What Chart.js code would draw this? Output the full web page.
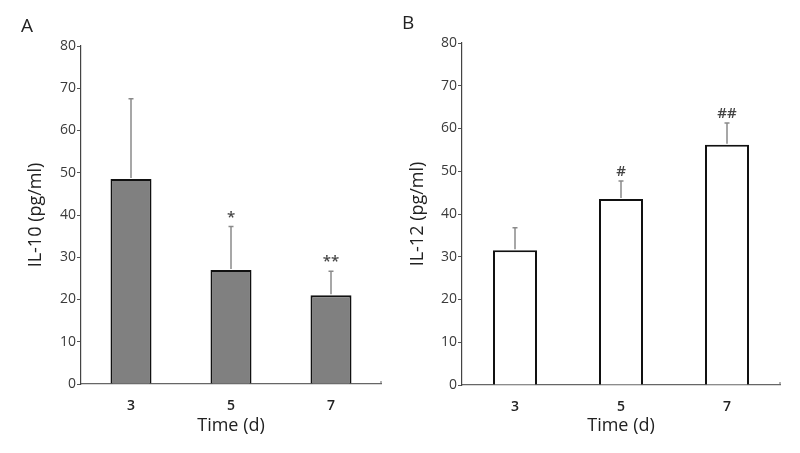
<!DOCTYPE html>
<html>
<head>
<meta charset="utf-8">
<script src="https://cdn.jsdelivr.net/npm/chart.js@4.4.1/dist/chart.umd.min.js"></script>
<style>
  html, body { margin: 0; padding: 0; background: #fff; }
  #wrap { position: relative; width: 800px; height: 453px; }
  .pane { position: absolute; top: 0; width: 400px; height: 453px; }
  .letter { position: absolute; font-family: 'Open Sans', sans-serif; font-size: 19px; color: #222; }
</style>
</head>
<body>
<div id="wrap">
  <div class="pane" style="left:0"><canvas id="chartA" width="400" height="453"></canvas></div>
  <div class="pane" style="left:400px"><canvas id="chartB" width="400" height="453"></canvas></div>
  <div class="letter" style="left:21px;top:12px">A</div>
  <div class="letter" style="left:402px;top:9px">B</div>
</div>
<script>
// data
const days = ['3', '5', '7'];
const il10Mean = [48.5, 27.0, 21.0];
const il10Err = [19.0, 10.3, 5.7];
const il10Marks = ['', '*', '**'];
const il12Mean = [31.5, 43.5, 56.2];
const il12Err = [5.3, 4.2, 5.1];
const il12Marks = ['', '#', '##'];
const yTicks = [0, 10, 20, 30, 40, 50, 60, 70, 80];

const fontFam = "'Open Sans', sans-serif";

// draws the upper error bar and the significance mark over each bar
const errorBarPlugin = {
    id: 'errorBars',
    afterDatasetsDraw(chart, args, opts) {
        const ctx = chart.ctx;
        const meta = chart.getDatasetMeta(0);
        const yScale = chart.scales.y;
        ctx.save();
        meta.data.forEach((bar, i) => {
            const top = yScale.getPixelForValue(opts.mean[i] + opts.err[i]);
            const base = yScale.getPixelForValue(opts.mean[i]);
            ctx.strokeStyle = '#8a8a8a';
            ctx.lineWidth = 1.5;
            ctx.beginPath();
            ctx.moveTo(bar.x, base - 1);
            ctx.lineTo(bar.x, top);
            ctx.moveTo(bar.x - 2.5, top);
            ctx.lineTo(bar.x + 2.5, top);
            ctx.stroke();
            if (opts.marks[i]) {
                ctx.fillStyle = '#444';
                ctx.font = '600 15px ' + fontFam;
                ctx.textAlign = 'center';
                ctx.textBaseline = 'middle';
                ctx.fillText(opts.marks[i], bar.x, top - 9);
            }
        });
        // little end tick on the right of the x axis
        const xs = chart.scales.x;
        ctx.strokeStyle = '#666';
        ctx.lineWidth = 1;
        ctx.beginPath();
        ctx.moveTo(xs.right, xs.top);
        ctx.lineTo(xs.right, xs.top - 3);
        ctx.stroke();
        ctx.restore();
    }
};

function makeChart(id, mean, err, marks, cfg) {
    new Chart(document.getElementById(id), {
        type: 'bar',
        data: {
            labels: days,
            datasets: [{
                data: mean,
                backgroundColor: cfg.fill,
                borderColor: '#111',
                borderWidth: 2,
                borderSkipped: 'start',
                categoryPercentage: 1,
                barPercentage: cfg.barPct
            }]
        },
        options: {
            responsive: false,
            animation: false,
            events: [],
            layout: { padding: { top: cfg.top, right: cfg.right, left: 0, bottom: 0 } },
            plugins: {
                legend: { display: false },
                tooltip: { enabled: false },
                errorBars: { mean: mean, err: err, marks: marks }
            },
            scales: {
                x: {
                    afterFit: s => { s.height = cfg.xh; },
                    grid: { display: false },
                    border: { display: true, color: '#666', width: 1.2 },
                    ticks: { color: '#222', padding: 6, font: { family: fontFam, size: 14, weight: '600' } },
                    title: { display: true, text: 'Time (d)', color: '#222',
                             padding: { top: 0, bottom: 16 }, font: { family: fontFam, size: 18 } }
                },
                y: {
                    min: 0, max: 80,
                    afterFit: s => { s.width = cfg.yw; },
                    afterBuildTicks: s => { s.ticks = yTicks.map(v => ({ value: v })); },
                    grid: { drawOnChartArea: false, drawTicks: true, tickLength: 4, color: '#555' },
                    border: { display: true, color: '#444', width: 1.2 },
                    ticks: { color: '#3a3a3a', padding: 1, font: { family: fontFam, size: 14 } },
                    title: { display: true, text: cfg.ytitle, color: '#222',
                             padding: { top: cfg.ytPad, bottom: 0 }, font: { family: fontFam, size: 18 } }
                }
            }
        },
        plugins: [errorBarPlugin]
    });
}

makeChart('chartA', il10Mean, il10Err, il10Marks,
    { fill: '#808080', barPct: 0.41, top: 46, right: 19, xh: 69, yw: 81, ytitle: 'IL-10 (pg/ml)', ytPad: 25 });
makeChart('chartB', il12Mean, il12Err, il12Marks,
    { fill: '#ffffff', barPct: 0.415, top: 43, right: 20, xh: 68, yw: 62, ytitle: 'IL-12 (pg/ml)', ytPad: 7 });
</script>
</body>
</html>
